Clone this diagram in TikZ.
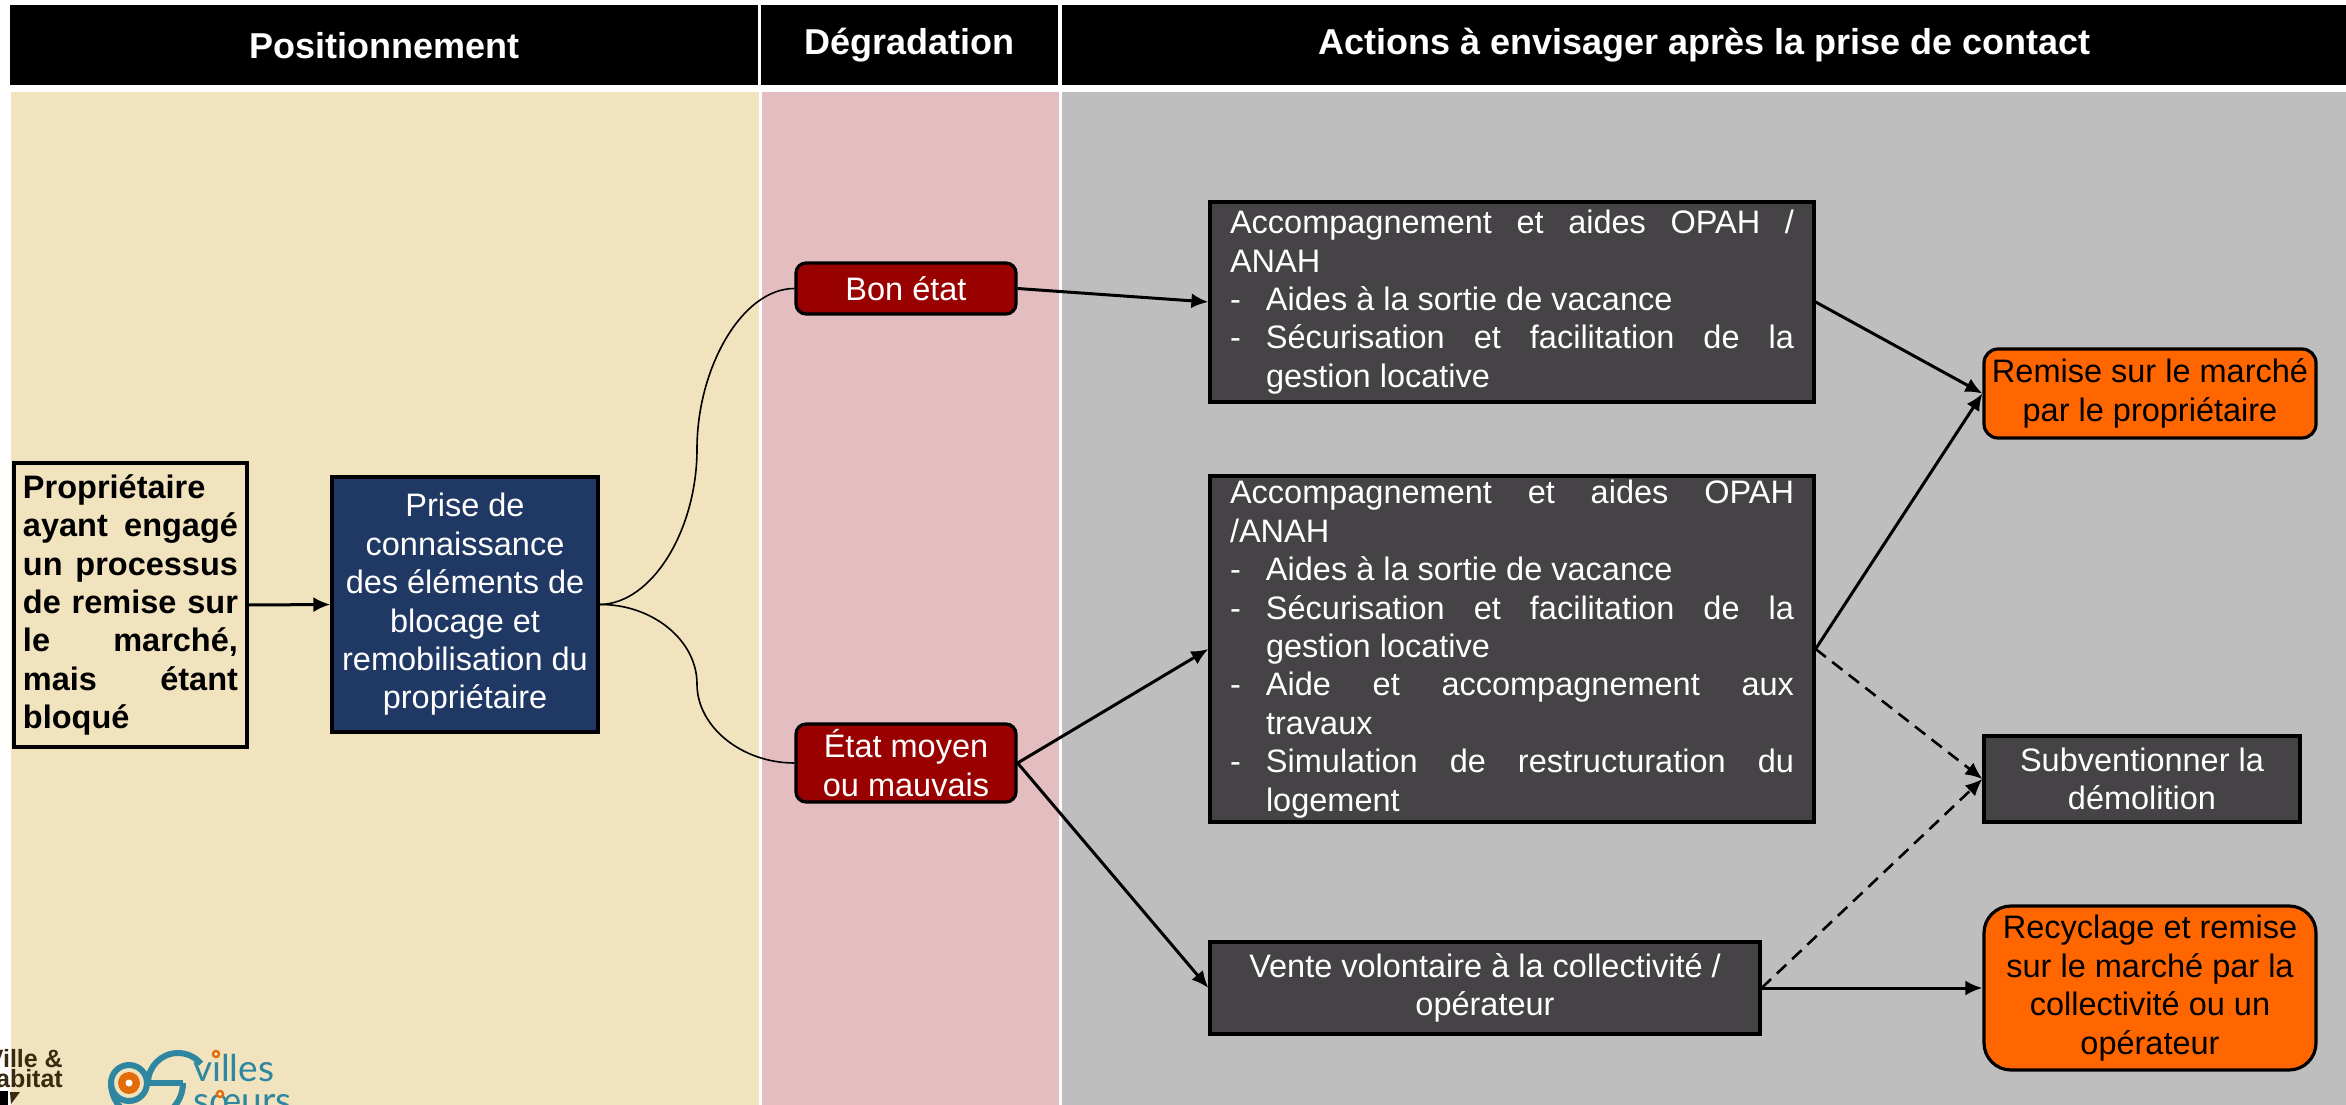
\documentclass[tikz,border=0pt]{standalone}
\usepackage{fontspec}
\setmainfont{Liberation Sans}
\newfontfamily\logofont{Lato}
\usetikzlibrary{arrows.meta}
\definecolor{beige}{HTML}{F0E3BE}
\definecolor{rosep}{HTML}{E3BDBF}
\definecolor{grisp}{HTML}{BEBEBE}
\definecolor{sombre}{HTML}{454345}
\definecolor{bleub}{HTML}{1F3864}
\definecolor{rouge}{HTML}{990000}
\definecolor{orangeb}{HTML}{FF6600}
\definecolor{teal}{HTML}{2F86A0}
\definecolor{orlogo}{HTML}{E36C0A}
\definecolor{brun}{HTML}{3A2A10}
\newcommand{\txt}{\fontsize{32.5}{38.4}\selectfont}
\newcommand{\jlist}{\parindent=0pt\parfillskip=0pt plus 1fil\hangindent=36pt\hangafter=1\leavevmode\hbox to 36pt{-\hfil}}
\tikzset{
  x=1pt,y=-1pt,
  band/.style={fill=black,draw=none,minimum height=80pt,inner sep=0pt,text=white,font=\fontsize{36}{42}\selectfont\bfseries},
  panel/.style={draw=none,inner sep=0pt},
  box/.style={draw=black,line width=3.2pt,inner sep=0pt,font=\txt,align=center},
  darkbox/.style={box,fill=sombre,text=white},
  listbox/.style={darkbox,align=justify,text width=564pt,minimum width=604pt},
  redbox/.style={box,fill=rouge,text=white,rounded corners=10pt,minimum width=220pt},
  orbox/.style={box,fill=orangeb,text=black,minimum width=332pt},
  conn/.style={line width=3pt,-{Latex[length=17pt,width=15pt]}},
  dconn/.style={line width=2.6pt,dash pattern=on 13pt off 8pt,-{Latex[length=17pt,width=15pt]}},
  curve/.style={line width=1.6pt},
  logotxt/.style={inner sep=0pt,anchor=east,text=brun,font=\fontsize{25}{25}\selectfont\bfseries}
}
\begin{document}
\begin{tikzpicture}
\useasboundingbox (0,0) rectangle (2346,1105);
\clip (0,0) rectangle (2346,1105);
\fill[white] (0,0) rectangle (2346,1105);
% headers
\node[band,anchor=north west,minimum width=748pt] (h1) at (10,5) {Positionnement};
\node[band,anchor=north west,minimum width=297pt] (h2) at (761,5) {Dégradation};
\node[band,anchor=north west,minimum width=1284pt] (h3) at (1062,5) {Actions à envisager après la prise de contact};
% panels
\node[panel,fill=beige,anchor=north west,minimum width=748pt,minimum height=1013pt] (p1) at (11,92) {};
\node[panel,fill=rosep,anchor=north west,minimum width=297pt,minimum height=1013pt] (p2) at (762,92) {};
\node[panel,fill=grisp,anchor=north west,minimum width=1284pt,minimum height=1013pt] (p3) at (1062,92) {};
% nodes
\node[box,fill=beige,text=black,minimum width=233pt,minimum height=284pt,text width=215pt,align=justify,font=\txt\bfseries] (prop) at (130.5,605)
 {\parindent=0pt Propriétaire\linebreak[0]\hfill\break ayant engagé\linebreak un processus\linebreak de remise sur\linebreak le marché,\linebreak mais étant\linebreak bloqué};
\node[box,fill=bleub,text=white,minimum width=266pt,minimum height=255pt] (prise) at (465,604.5)
 {Prise de\\connaissance\\des éléments de\\blocage et\\remobilisation du\\propriétaire};
\node[redbox,minimum height=51pt] (bon) at (906,288.5) {Bon état};
\node[redbox,minimum height=78pt] (etat) at (906,763) {État moyen\\ou mauvais};
\node[listbox,minimum height=200pt] (a) at (1512,302) {%
 \parindent=0pt Accompagnement et aides OPAH /\linebreak ANAH\par
 \jlist Aides à la sortie de vacance\par
 \jlist Sécurisation et facilitation de la\linebreak gestion locative\par};
\node[listbox,minimum height=346pt] (b) at (1512,649) {%
 \parindent=0pt Accompagnement et aides OPAH\linebreak /ANAH\par
 \jlist Aides à la sortie de vacance\par
 \jlist Sécurisation et facilitation de la\linebreak gestion locative\par
 \jlist Aide et accompagnement aux\linebreak travaux\par
 \jlist Simulation de restructuration du\linebreak logement\par};
\node[darkbox,minimum width=550pt,minimum height=92pt] (vente) at (1485,988) {Vente volontaire à la collectivité /\\opérateur};
\node[orbox,rounded corners=14pt,minimum height=89pt] (o1) at (2150,393.5) {Remise sur le marché\\par le propriétaire};
\node[darkbox,minimum width=316pt,minimum height=86pt] (sub) at (2142,779) {Subventionner la\\démolition};
\node[orbox,rounded corners=27pt,minimum height=164pt] (o2) at (2150,988) {Recyclage et remise\\sur le marché par la\\collectivité ou un\\opérateur};
% coordinates of the curved connectors
\coordinate (m1) at (697,449);
\coordinate (m2) at (697,684);
% connectors
\draw[conn] (prop.east) -- (prise.west);
\draw[curve] (prise.east) .. controls (652,604) and (697,530) .. (m1) .. controls (697,368) and (742,288.5) .. (bon.west);
\draw[curve] (prise.east) .. controls (652,604) and (697,640) .. (m2) .. controls (697,727) and (742,763) .. (etat.west);
\draw[conn] (bon.east) -- (a.west);
\draw[conn] (etat.east) -- (b.west);
\draw[conn] (etat.east) -- (vente.west);
\draw[conn] (a.east) -- (o1.west);
\draw[conn] (b.east) -- (o1.west);
\draw[dconn] (b.east) -- (sub.west);
\draw[dconn] (vente.east) -- (sub.west);
\draw[conn] (vente.east) -- (o2.west);
% logos
\fill[black] (0,1091) rectangle (8,1105);
\fill[brun] (10,1092) -- (20,1092) -- (11,1104) -- cycle;
\node[logotxt] (lv) at (63,1059) {Ville \&};
\node[logotxt] (lh) at (63,1079) {Habitat};
\draw[teal,line width=6pt] (129,1083) circle (18);
\draw[teal,line width=6pt] (111,1083) arc[start angle=180,end angle=0,radius=36] (147,1083);
\draw[teal,line width=6pt] (146,1083) -- (183,1083);
\draw[teal,line width=6pt] (148,1083) arc[start angle=180,end angle=320,radius=30];
\fill[orlogo] (129,1083) circle (11);
\fill[white] (129,1083) circle (3.5);
\node[inner sep=0pt,anchor=base west,text=teal,font=\logofont\fontsize{37}{37}\selectfont] (lvi) at (193,1081) {v\i lles};
\node[inner sep=0pt,anchor=base west,text=teal,font=\logofont\fontsize{37}{37}\selectfont] (lso) at (193,1113) {sœurs};
\draw[orlogo,line width=2.5pt,fill=white] (216,1054) circle (3);
\draw[orlogo,line width=2.5pt,fill=white] (220,1094) circle (3);
\end{tikzpicture}
\end{document}
